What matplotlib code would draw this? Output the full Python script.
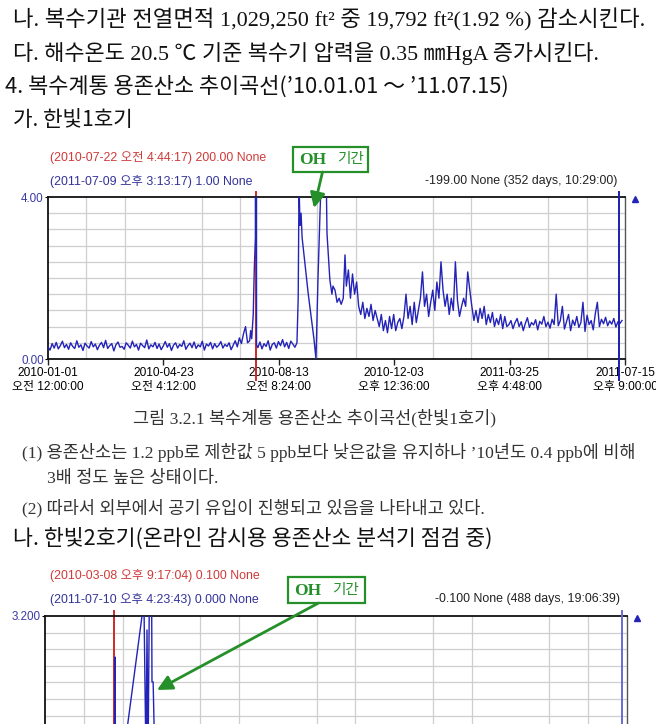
import matplotlib
matplotlib.use("Agg")
import matplotlib.pyplot as plt
import numpy as np
import pandas as pd
from matplotlib.patches import Rectangle

W, H = 656, 724
START = pd.Timestamp("2010-01-01 00:00:00")
END = pd.Timestamp("2011-07-15 21:00:00")

KR_SANS = ["Noto Sans CJK KR", "DejaVu Sans"]
KR_MIX = ["Liberation Serif", "Noto Sans CJK KR"]
CHART_FONT = ["Liberation Sans", "Noto Sans CJK KR"]

TICK_DATES = ["2010-01-01 00:00", "2010-04-23 04:12", "2010-08-13 08:24",
              "2010-12-03 12:36", "2011-03-25 16:48", "2011-07-15 21:00"]
TICK_LABELS = ["2010-01-01\n오전 12:00:00", "2010-04-23\n오전 4:12:00", "2010-08-13\n오전 8:24:00",
               "2010-12-03\n오후 12:36:00", "2011-03-25\n오후 4:48:00", "2011-07-15\n오후 9:00:00"]

# 한빛1호기 -- baseline readings every 2 days from 2010-01-01
U1_BASE_START = 0
U1_BASE_VALS = [
    0.30, 0.22, 0.38, 0.27, 0.41, 0.25, 0.33, 0.44, 0.28, 0.36,
    0.24, 0.40, 0.31, 0.26, 0.45, 0.29, 0.35, 0.21, 0.39, 0.32,
    0.27, 0.43, 0.30, 0.37, 0.23, 0.34, 0.41, 0.28, 0.46, 0.26,
    0.33, 0.38, 0.20, 0.35, 0.42, 0.29, 0.31, 0.24, 0.40, 0.34,
    0.27, 0.44, 0.30, 0.36, 0.22, 0.39, 0.33, 0.28, 0.47, 0.25,
    0.35, 0.30, 0.41, 0.26, 0.37, 0.23, 0.32, 0.43, 0.29, 0.38,
    0.21, 0.34, 0.40, 0.27, 0.36, 0.31, 0.45, 0.24, 0.33, 0.39,
    0.28, 0.42, 0.26, 0.35, 0.30, 0.44, 0.22, 0.37, 0.32, 0.41,
    0.25, 0.38, 0.29, 0.34, 0.43, 0.27, 0.36, 0.31, 0.40, 0.23,
    0.34, 0.45, 0.30, 0.52, 0.38, 0.62, 0.80, 0.40,
]
# 한빛1호기 -- event period (days since 2010-01-01)
U1_EVENT_DAYS = [196, 197, 198, 199.5, 200.5, 201.6, 202.2, 202.7, 204, 206, 208, 210, 212, 214,
                 216, 218, 220, 222, 224, 226, 228, 230, 232, 234, 236, 238, 240, 242, 243.2,
                 244, 245, 246, 247, 250, 253, 256, 258.5, 260.5, 262.4, 264.4, 265.5, 270.5,
                 271.2, 274, 276, 277, 279, 281, 283, 285, 287, 288.7]
U1_EVENT_VALS = [0.45, 0.70, 0.50, 1.10, 2.20, 3.00, 200.0, 0.35, 0.28, 0.42, 0.25, 0.38, 0.31, 0.45,
                 0.22, 0.36, 0.40, 0.27, 0.43, 0.33, 0.48, 0.30, 0.41, 0.26, 0.44, 0.37, 0.29, 0.40, 1.50,
                 4.30, 3.30, 3.60, 3.00, 2.30, 1.60, 1.00, 0.50, 0.00, 1.95, 3.60, 4.40, 4.40,
                 3.10, 1.95, 1.60, 1.80, 1.70, 1.40, 1.50, 1.35, 1.50, 2.57]
# 한빛1호기 -- after OH, every 2 days from day 290
U1_TAIL_START = 290
U1_TAIL_VALS = [
    1.80, 2.20, 1.50, 2.10, 1.60, 1.90,
    1.30, 1.10, 1.40, 1.00, 1.25, 1.05, 1.35, 0.95, 1.20, 1.00,
    0.80, 1.10, 0.70, 0.95, 0.65, 1.05, 0.75, 1.10, 0.70, 0.90, 1.00, 0.75, 1.05,
    1.60, 1.00, 1.30, 0.85, 1.40, 0.90, 1.20, 1.50,
    2.15, 1.30, 1.60, 1.05, 1.40, 1.70, 1.20, 1.90, 1.50,
    2.40, 1.70, 1.30, 1.60, 1.10, 1.50, 1.20,
    2.40, 1.45, 1.05, 1.30, 1.50, 1.30, 2.15, 1.70,
    1.30, 0.95, 1.20, 0.90, 1.25, 1.00, 1.30, 0.85, 1.10, 0.90,
    1.15, 0.80, 1.00, 0.85, 1.10, 0.75, 1.05, 0.80,
    0.85, 0.95, 0.75, 0.90, 1.00, 0.80, 0.92, 0.70, 0.88, 1.02,
    0.78, 0.90, 0.84, 0.97, 0.72, 0.93, 0.86, 1.05, 0.80, 0.91,
    0.76, 0.98, 0.85, 1.60, 0.82, 0.95, 1.30, 0.74, 0.92, 1.10,
    0.70, 0.96, 0.83, 1.05, 0.78, 0.90, 1.40, 0.68, 1.08, 0.85,
    0.95, 0.72, 1.12, 1.40, 0.80, 0.98, 0.87, 1.03, 0.82, 0.94,
    0.86, 1.00, 0.79, 0.92, 0.88, 0.95,
]
U1_RED_CURSOR = "2010-07-22 04:44:17"
U1_BLUE_CURSOR = "2011-07-09 15:13:17"

# 한빛2호기 (only the upper part is visible on the page)
U2_DAYS = [0, 20, 40, 60, 66.9, 67.4, 67.9, 73, 93.5, 94.5, 95.4, 97.3, 98.3, 99.3, 100.5,
           102.8, 103.1, 104.2, 106, 130, 180, 250, 330, 420, 500, 555.7, 560]
U2_VALS = [0.12, 0.08, 0.15, 0.10, 0.10, 2.41, 0.12, 0.10, 3.20, 3.40, 3.40, 0.40, 2.93, 0.40, 3.40,
           3.40, 1.93, 1.93, 0.30, 0.15, 0.10, 0.12, 0.08, 0.10, 0.12, 0.00, 0.05]
U2_RED_CURSOR = "2010-03-08 21:17:04"
U2_BLUE_CURSOR = "2011-07-10 16:23:43"


def days_since_start(stamp: str) -> float:
    return (pd.Timestamp(stamp) - START) / pd.Timedelta(days=1)


def px_axes(left, top, right, bottom):
    return [left / W, 1 - bottom / H, (right - left) / W, (bottom - top) / H]


def style_chart(ax, ymax, ytop_label, ybot_label, show_xlabels):
    span = days_since_start(str(END))
    ax.set_xlim(0, span)
    ax.set_ylim(0, ymax)
    ax.set_xticks(np.linspace(0, span, 16), minor=True)
    ax.set_yticks(np.linspace(0, ymax, 11), minor=True)
    ax.grid(which="minor", color="#cfcfcf", linewidth=0.9)
    ax.tick_params(which="minor", length=0)
    ax.set_xticks([days_since_start(d) for d in TICK_DATES])
    if show_xlabels:
        ax.set_xticklabels(TICK_LABELS, fontsize=8.6, family=CHART_FONT, linespacing=1.15)
    else:
        ax.set_xticklabels([])
    ax.tick_params(axis="x", which="major", length=4, width=1, pad=2, color="#222222")
    if ybot_label:
        ax.set_yticks([0, ymax])
        ax.set_yticklabels([ybot_label, ytop_label], fontsize=8.4, family=CHART_FONT, color="#3a3aa8")
    else:
        ax.set_yticks([ymax])
        ax.set_yticklabels([ytop_label], fontsize=8.4, family=CHART_FONT, color="#3a3aa8")
    ax.tick_params(axis="y", which="major", length=2, pad=1)
    for side in ("left", "top", "bottom"):
        ax.spines[side].set_color("#111111")
        ax.spines[side].set_linewidth(1.3)
    ax.spines["right"].set_color("#555555")
    ax.spines["right"].set_linewidth(1.0)


def draw_chart(fig, rect, days, vals, ymax, ylabels, red_cursor, blue_cursor, blue_color,
               below, show_xlabels=True):
    ax = fig.add_axes(rect)
    style_chart(ax, ymax, *ylabels, show_xlabels)
    ax.axvline(days_since_start(red_cursor), ymin=-below, ymax=1.03, color="#cc2a2a",
               linewidth=1.4, clip_on=False, zorder=2)
    ax.plot(days, vals, color="#2323b8", linewidth=1.0, zorder=3)
    ax.axvline(days_since_start(blue_cursor), ymin=-below, ymax=1.03, color=blue_color,
               linewidth=1.4, clip_on=False, zorder=4)
    ax.plot([1.017], [0.985], marker="^", markersize=4, color="#2323b8",
            transform=ax.transAxes, clip_on=False)
    return ax


def oh_box(ov, left, top, right, bottom, tip):
    green = "#25902a"
    ov.add_patch(Rectangle((left, top), right - left, bottom - top, facecolor="white",
                           edgecolor=green, linewidth=1.6, zorder=5))
    cy = (top + bottom) / 2
    ov.text(left + 6, cy + 1, "OH", family="Liberation Serif", weight="bold", fontsize=12.5,
            color=green, va="center", ha="left", zorder=6)
    ov.text(left + 44, cy, "기간", family=KR_SANS, fontsize=10.5, color=green,
            va="center", ha="left", zorder=6)
    start = ((left + right) / 2 - 8, bottom)
    ov.annotate("", xy=tip, xytext=start,
                arrowprops=dict(arrowstyle="-|>,head_length=0.9,head_width=0.45",
                                color=green, linewidth=2.0, shrinkA=0, shrinkB=0), zorder=6)


def main() -> None:
    fig = plt.figure(figsize=(W / 100, H / 100), dpi=100)

    # unit 1 chart
    u1_days = list(U1_BASE_START + 2 * np.arange(len(U1_BASE_VALS))) + U1_EVENT_DAYS + \
        list(U1_TAIL_START + 2 * np.arange(len(U1_TAIL_VALS)))
    u1_vals = U1_BASE_VALS + U1_EVENT_VALS + U1_TAIL_VALS
    draw_chart(fig, px_axes(48, 197, 625, 359), u1_days, u1_vals, 4.0, ("4.00", "0.00"),
               U1_RED_CURSOR, U1_BLUE_CURSOR, "#1d1db0", 0.13)

    # unit 2 chart (runs past the page bottom)
    draw_chart(fig, px_axes(45, 616, 627, 782), U2_DAYS, U2_VALS, 3.2, ("3.200", None),
               U2_RED_CURSOR, U2_BLUE_CURSOR, "#6a6ad8", 0.13, show_xlabels=False)

    ov = fig.add_axes([0, 0, 1, 1], zorder=10)
    ov.set_xlim(0, W)
    ov.set_ylim(H, 0)
    ov.axis("off")
    ov.patch.set_alpha(0)

    body = dict(family=KR_MIX, color="#111111", va="center", ha="left", weight="light")
    ov.text(13, 20, "나. 복수기관 전열면적 1,029,250 ft² 중 19,792 ft²(1.92 %) 감소시킨다.",
            fontsize=16, **body)
    ov.text(13, 53, "다. 해수온도 20.5 ℃ 기준 복수기 압력을 0.35 ㎜HgA 증가시킨다.",
            fontsize=15.8, **body)
    head = dict(family=KR_SANS, color="#111111", va="center", ha="left", weight="light")
    ov.text(5, 87, "4. 복수계통 용존산소 추이곡선(’10.01.01 ～ ’11.07.15)", fontsize=15.8, **head)
    ov.text(13, 120, "가. 한빛1호기", fontsize=15.3, **head)

    small = dict(family=CHART_FONT, fontsize=8.9, va="center")
    ov.text(50, 157, "(2010-07-22 오전 4:44:17) 200.00 None", color="#d03a3a", ha="left", **small)
    ov.text(50, 181, "(2011-07-09 오후 3:13:17) 1.00 None", color="#33339a", ha="left", **small)
    ov.text(617, 181, "-199.00 None (352 days, 10:29:00)", color="#222222", ha="right", **small)
    oh_box(ov, 293, 147, 368, 172, (314, 208))

    para = dict(family=KR_MIX, color="#333333", va="center", ha="left", fontsize=12.6,
                weight="light")
    ov.text(133, 418, "그림 3.2.1 복수계통 용존산소 추이곡선(한빛1호기)", **para)
    ov.text(22, 452, "(1) 용존산소는 1.2 ppb로 제한값 5 ppb보다 낮은값을 유지하나 ’10년도 0.4 ppb에 비해",
            **para)
    ov.text(47, 479, "3배 정도 높은 상태이다.", **para)
    ov.text(22, 508, "(2) 따라서 외부에서 공기 유입이 진행되고 있음을 나타내고 있다.", **para)
    ov.text(13, 539, "나. 한빛2호기(온라인 감시용 용존산소 분석기 점검 중)", fontsize=15.6, **head)

    ov.text(50, 575, "(2010-03-08 오후 9:17:04) 0.100 None", color="#d03a3a", ha="left", **small)
    ov.text(50, 599, "(2011-07-10 오후 4:23:43) 0.000 None", color="#33339a", ha="left", **small)
    ov.text(620, 599, "-0.100 None (488 days, 19:06:39)", color="#222222", ha="right", **small)
    oh_box(ov, 288, 577, 365, 603, (157, 690))

    fig.savefig("out.png", dpi=100)
    plt.close(fig)


if __name__ == "__main__":
    main()
